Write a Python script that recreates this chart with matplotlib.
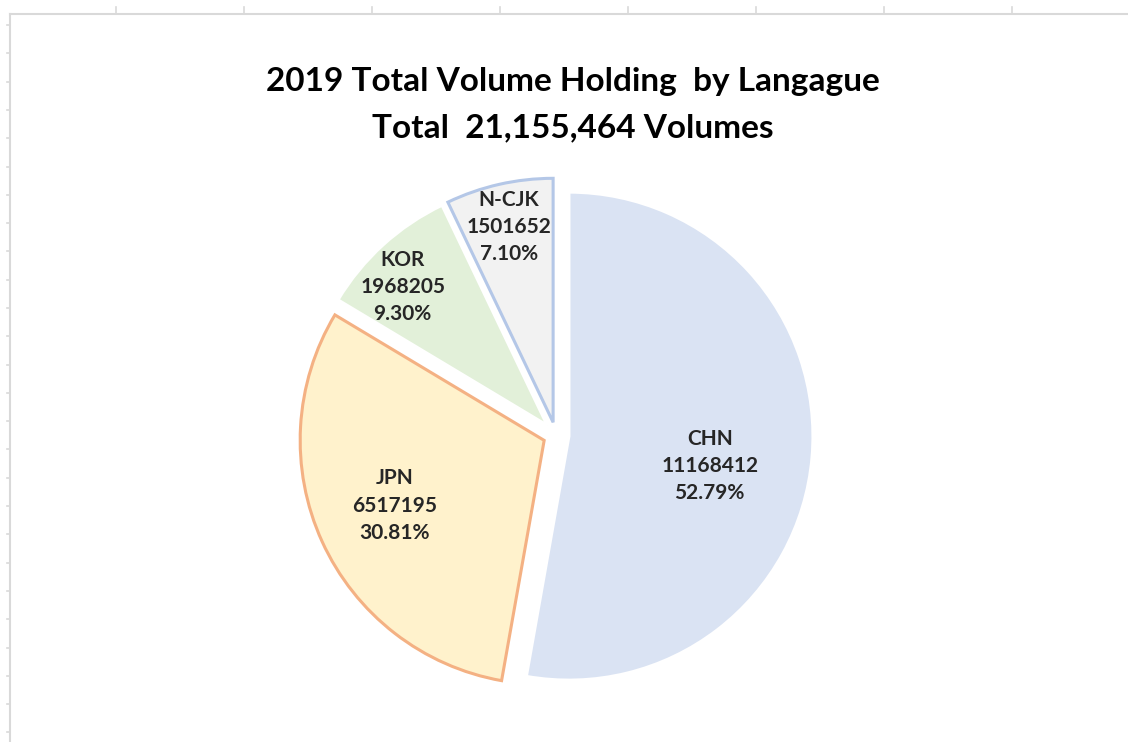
import matplotlib.pyplot as plt
from matplotlib.lines import Line2D
import numpy as np

languages = ['CHN', 'JPN', 'KOR', 'N-CJK']
volumes = [11168412, 6517195, 1968205, 1501652]
percents = ['52.79%', '30.81%', '9.30%', '7.10%']
total_label = '21,155,464'

fills = ['#dae3f3', '#fff2cc', '#e2f0d9', '#f2f2f2']
edges = ['#ffffff', '#f4b183', '#ffffff', '#b4c7e7']
# label placement inside each slice (fraction of radius, angle nudge in deg)
label_dist = [0.59, 0.67, 0.82, 0.82]
label_turn = [-7, -1, 4, 0]

W, H = 1128, 742
fig = plt.figure(figsize=(W / 100, H / 100), dpi=100)
ax = fig.add_axes([0, 0, 1, 1])

# pie drawn in pixel-like data units
cx, cy, r = 556, H - 435, 244
wedges, _ = ax.pie(volumes, colors=fills, startangle=90, counterclock=False,
                   center=(cx, cy), radius=r, explode=[13] * 4,
                   wedgeprops=dict(linewidth=2.2))
for w, ec in zip(wedges, edges):
    w.set_edgecolor(ec)

for w, lang, v, p, d, t in zip(wedges, languages, volumes, percents,
                               label_dist, label_turn):
    mid = np.deg2rad((w.theta1 + w.theta2) / 2 + t)
    x = w.center[0] + d * r * np.cos(mid)
    y = w.center[1] + d * r * np.sin(mid)
    ax.text(x, y, f'{lang}\n{v}\n{p}', ha='center', va='center',
            fontsize=15, fontweight='bold', family='Lato',
            color='#262626', linespacing=1.45)

ax.set_xlim(0, W)
ax.set_ylim(0, H)
ax.set_axis_off()

# spreadsheet frame behind the chart
grid = '#d9d9d9'
fig.add_artist(Line2D([10 / W, 1], [1 - 14 / H, 1 - 14 / H], color=grid, lw=1.5))
fig.add_artist(Line2D([10 / W, 10 / W], [0, 1 - 14 / H], color=grid, lw=1.5))
for gx in range(116, W, 128):
    fig.add_artist(Line2D([gx / W, gx / W], [1 - 7 / H, 1 - 14 / H], color=grid, lw=1.2))
for gy in np.arange(25, H, 28.3):
    fig.add_artist(Line2D([7 / W, 10 / W], [1 - gy / H, 1 - gy / H], color=grid, lw=1.2))

fig.text(573 / W, 1 - 81 / H, '2019 Total Volume Holding  by Langague',
         ha='center', va='center', fontsize=24, fontweight='bold',
         family='Lato', color='#000000')
fig.text(573 / W, 1 - 128 / H, f'Total  {total_label} Volumes',
         ha='center', va='center', fontsize=24, fontweight='bold',
         family='Lato', color='#000000')

fig.savefig('out.png', dpi=100)
